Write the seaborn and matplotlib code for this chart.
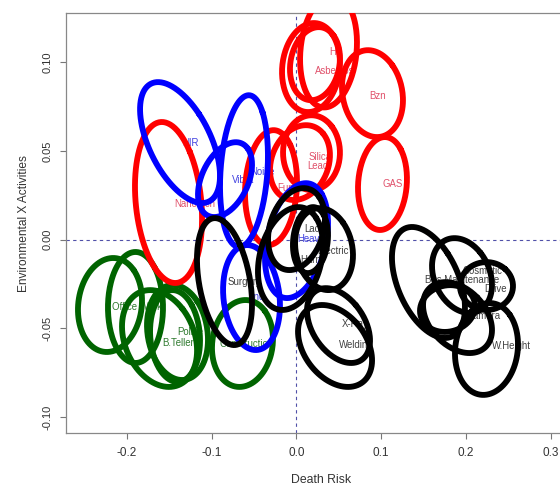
import numpy as np
import pandas as pd
import matplotlib
matplotlib.use("Agg")
import matplotlib.pyplot as plt
import seaborn as sns

# ellipse data: name, group, centre, scale (sx, sy) and correlation r
names = ["HF", "Asbestos", "Asbestos2", "Bzn", "GAS", "Silica", "Lead", "Fumes", "Nanotech",
         "NIR", "Vibration", "Noise", "Heavy", "Ind",
         "Surgery", "Lacquer", "Electric", "Elec2", "Harm", "X-Ray", "Welding",
         "Bus", "Cosmetic", "Drive", "Maintenance", "Camera", "W.Height",
         "Office Work", "OW2", "B.Teller", "Police", "Pol2", "Construction"]
groups = (["chem"] * 9 + ["phys"] * 5 + ["mech"] * 13 + ["office"] * 6)
cx = [0.0378, 0.0171, 0.0218, 0.0897, 0.1015, 0.0177, 0.0041, -0.0301, -0.1511,
      -0.1375, -0.0844, -0.0620, 0.0000, -0.0531,
      -0.0850, 0.0000, 0.0325, 0.0165, -0.0071, 0.0496, 0.0455,
      0.1558, 0.1954, 0.2243, 0.1783, 0.1901, 0.2243,
      -0.2202, -0.1901, -0.1617, -0.1405, -0.1434, -0.0638]
cy = [0.1063, 0.0970, 0.0992, 0.0823, 0.0316, 0.0490, 0.0434, 0.0293, 0.0209,
      0.0547, 0.0338, 0.0386, -0.0006, -0.0327,
      -0.0237, 0.0059, -0.0054, -0.0003, -0.0107, -0.0485, -0.0600,
      -0.0242, -0.0203, -0.0262, -0.0389, -0.0440, -0.0617,
      -0.0369, -0.0383, -0.0558, -0.0524, -0.0544, -0.0586]
sx = [0.0336, 0.0342, 0.0295, 0.0360, 0.0289, 0.0336, 0.0354, 0.0307, 0.0396,
      0.0472, 0.0319, 0.0283, 0.0372, 0.0336,
      0.0325, 0.0336, 0.0342, 0.0207, 0.0384, 0.0372, 0.0437,
      0.0431, 0.0354, 0.0313, 0.0325, 0.0407, 0.0372,
      0.0378, 0.0325, 0.0443, 0.0360, 0.0295, 0.0360]
sy = [0.0318, 0.0251, 0.0206, 0.0245, 0.0262, 0.0211, 0.0211, 0.0324, 0.0454,
      0.0341, 0.0211, 0.0428, 0.0324, 0.0296,
      0.0358, 0.0231, 0.0231, 0.0186, 0.0290, 0.0211, 0.0231,
      0.0313, 0.0211, 0.0135, 0.0132, 0.0200, 0.0259,
      0.0265, 0.0313, 0.0273, 0.0268, 0.0259, 0.0245]
rho = [0.15, 0.1, 0.15, -0.15, 0.1, 0.0, 0.2, 0.1, -0.2,
       -0.55, 0.4, 0.2, 0.3, -0.15,
       -0.35, 0.25, -0.15, 0.15, 0.25, -0.4, -0.35,
       -0.45, -0.25, 0.0, 0.1, -0.35, 0.1,
       0.1, 0.0, -0.25, -0.15, -0.1, 0.1]

# labels drawn on the chart
label_text = ["HF", "Asbestos", "Bzn", "GAS", "Silica", "Lead", "Fumes", "Nanotech",
              "NIR", "Vibra", "Noise", "Heavy", "Ind",
              "Surgery", "Lacq", "Electric", "Harm", "X-Ray", "Welding",
              "Cosmetic", "Bus Maintenance", "Drive", "Camera", "W.Height",
              "Office Work", "Police", "B.Teller", "Construction"]
label_group = (["chem"] * 8 + ["phys"] * 5 + ["mech"] * 11 + ["office"] * 4)
label_x = [0.0466, 0.0455, 0.0962, 0.1139, 0.0277, 0.0254, -0.0053, -0.1198,
           -0.1257, -0.0632, -0.0408, 0.0170, -0.0455,
           -0.0608, 0.0218, 0.0430, 0.0183, 0.0691, 0.0702,
           0.2190, 0.1960, 0.2355, 0.2214, 0.2532,
           -0.1883, -0.1257, -0.1399, -0.0584]
label_y = [0.1057, 0.0950, 0.0809, 0.0313, 0.0465, 0.0414, 0.0290, 0.0200,
           0.0544, 0.0335, 0.0380, 0.0005, -0.0324,
           -0.0240, 0.0060, -0.0062, -0.0115, -0.0476, -0.0595,
           -0.0178, -0.0228, -0.0279, -0.0431, -0.0600,
           -0.0380, -0.0521, -0.0583, -0.0589]

xticks = [-0.2, -0.1, 0.0, 0.1, 0.2, 0.3]
xtick_labels = ["-0.2", "-0.1", "0.0", "0.1", "0.2", "0.3"]
yticks = [-0.10, -0.05, 0.00, 0.05, 0.10]
ytick_labels = ["-0.10", "-0.05", "0.00", "0.05", "0.10"]

line_colors = {"office": "#006400", "chem": "#ff0000", "phys": "#0000ff", "mech": "#000000"}
text_colors = {"office": "#2f7a2f", "chem": "#e0506a", "phys": "#4040e0", "mech": "#404040"}

# build ellipse outlines (ellipse package style: centre, scale, correlation)
t = np.linspace(0, 2 * np.pi, 181)
rows = []
for i, n in enumerate(names):
    d = np.arccos(rho[i])
    ex = cx[i] + sx[i] * np.cos(t + d / 2)
    ey = cy[i] + sy[i] * np.cos(t - d / 2)
    rows.append(pd.DataFrame({"x": ex, "y": ey, "name": n, "group": groups[i]}))
df = pd.concat(rows, ignore_index=True)

sns.set_style("ticks")
plt.rcParams["font.family"] = ["Liberation Sans", "DejaVu Sans"]

fig = plt.figure(figsize=(5.6, 4.86), dpi=100)
ax = fig.add_axes([0.1179, 0.109, 0.9107, 0.864])

for i, s in enumerate(label_text):
    ax.text(label_x[i], label_y[i], s, ha="center", va="center", fontsize=6.9,
            color=text_colors[label_group[i]], zorder=1)

for g in ["office", "chem", "phys", "mech"]:
    sub = df[df["group"] == g]
    sns.lineplot(data=sub, x="x", y="y", units="name", estimator=None, sort=False,
                 color=line_colors[g], linewidth=4.2, ax=ax, legend=False, zorder=3)

ax.axhline(0, color="#5050a8", lw=0.8, ls=(0, (3, 3)), zorder=0)
ax.axvline(0, color="#5050a8", lw=0.8, ls=(0, (3, 3)), zorder=0)

ax.set_xlim(-0.2721, 0.33)
ax.set_ylim(-0.1091, 0.1277)
ax.set_xticks(xticks)
ax.set_xticklabels(xtick_labels, fontsize=8.5, color="#333333")
ax.set_yticks(yticks)
ax.set_yticklabels(ytick_labels, fontsize=8, color="#333333", rotation=90, va="center")
ax.set_xlabel("Death Risk", fontsize=8.8, color="#333333", labelpad=11)
ax.set_ylabel("Environmental X Activities", fontsize=8.6, color="#333333", labelpad=9)
ax.tick_params(direction="out", length=4, width=0.8, color="#777777", pad=6)
for sp in ax.spines.values():
    sp.set_color("#888888")
    sp.set_linewidth(0.9)

fig.savefig("out.png", dpi=100)
